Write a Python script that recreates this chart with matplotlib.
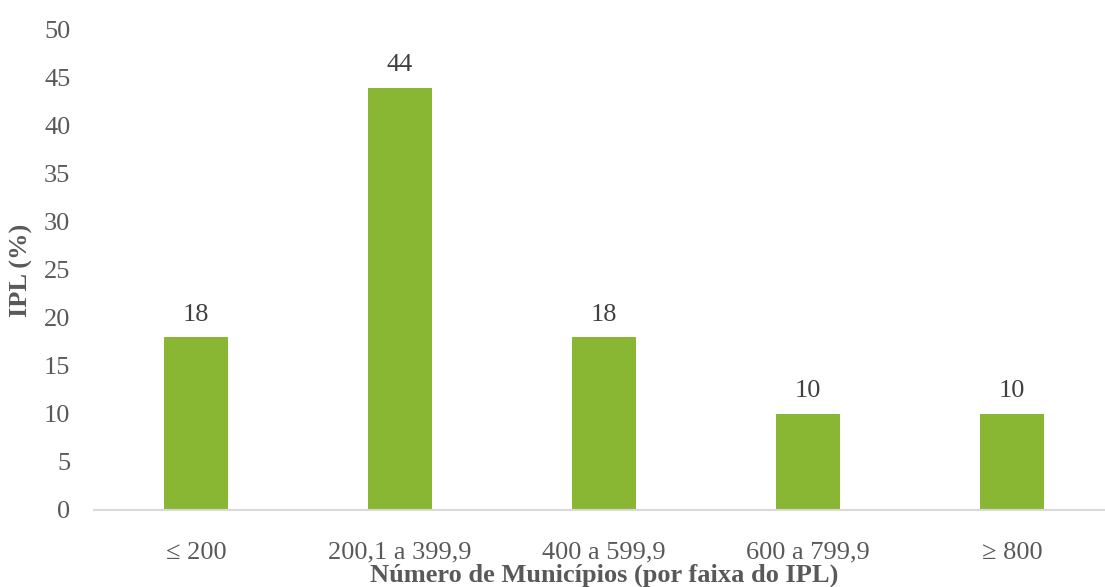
import matplotlib
matplotlib.use('Agg')
import matplotlib.pyplot as plt

plt.rcParams.update({
    'font.family': ['Liberation Serif', 'DejaVu Serif'],
    'font.size': 19,
})

faixas = ['≤ 200', '200,1 a 399,9', '400 a 599,9', '600 a 799,9', '≥ 800']
ipl = [18, 44, 18, 10, 10]

txt = '#595959'
fig = plt.figure(figsize=(11.05, 5.87), dpi=100)
ax = fig.add_axes([94 / 1105, 77 / 587, 1020 / 1105, 480 / 587])

x = range(len(faixas))
bars = ax.bar(x, ipl, width=0.314, color='#8AB733')
for b, v in zip(bars, ipl):
    ax.text(b.get_x() + b.get_width() / 2, v + 1.2, str(v),
            ha='center', va='bottom', color='#404040', fontsize=19)

ax.set_xlim(-0.5, len(faixas) - 0.5)
ax.set_ylim(0, 50)
ax.set_yticks(range(0, 51, 5))
ax.set_xticks(list(x))
ax.set_xticklabels(faixas)
ax.tick_params(axis='both', length=0, colors=txt, labelsize=19)
ax.tick_params(axis='y', pad=17)
ax.tick_params(axis='x', pad=23)

for s in ['top', 'right', 'left']:
    ax.spines[s].set_visible(False)
ax.spines['bottom'].set_color('#D9D9D9')
ax.spines['bottom'].set_linewidth(1.5)

ax.set_xlabel('Número de Municípios (por faixa do IPL)', fontweight='bold',
              color=txt, fontsize=19, labelpad=0)
ax.set_ylabel('IPL (%)', fontweight='bold', color=txt, fontsize=19, labelpad=8)

fig.savefig('out.png', dpi=100)
